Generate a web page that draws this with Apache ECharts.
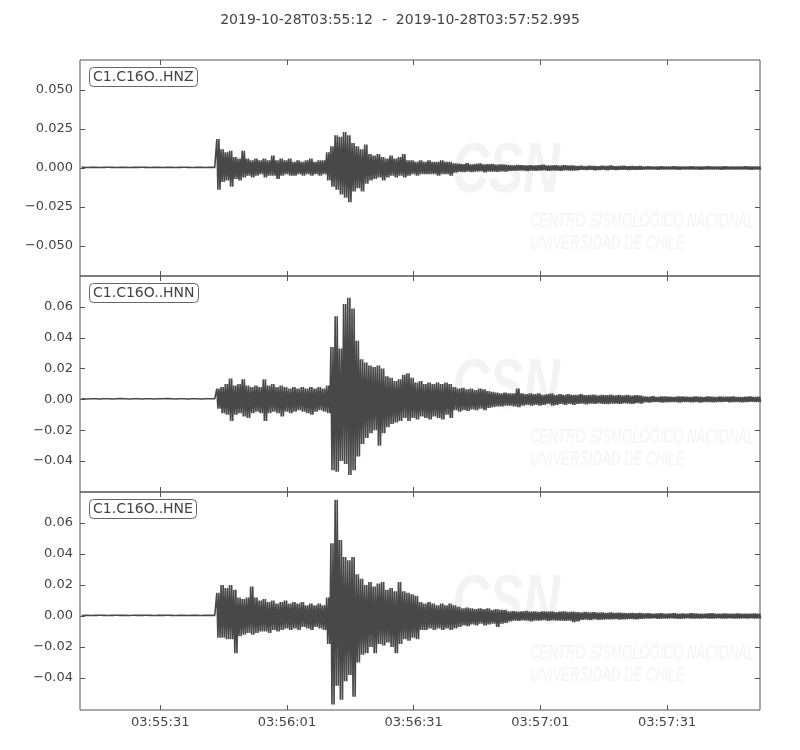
<!DOCTYPE html>
<html>
<head>
    <meta charset="UTF-8">
    <title>C1.C16O 2019-10-28</title>
    <script src="https://cdn.jsdelivr.net/npm/echarts@6/dist/echarts.min.js"></script>
    <style>
        html, body { margin: 0; padding: 0; background: #fff; }
    </style>
</head>
<body>
<div id="main" style="width: 800px;height:750px;"></div>

<script type="text/javascript">
    // seconds after 2019-10-28T03:55:12 where the time ticks sit
    var tickSecs = [19, 49, 79, 109, 139];
    var tickLabels = ['03:55:31', '03:56:01', '03:56:31', '03:57:01', '03:57:31'];
    var endSec = 160.995;

    var channels = ['C1.C16O..HNZ', 'C1.C16O..HNN', 'C1.C16O..HNE'];
    var yRanges = [[-0.0692, 0.0692], [-0.0601, 0.0801], [-0.0606, 0.0800]];
    var yTicks = [
        [-0.05, -0.025, 0, 0.025, 0.05],
        [-0.04, -0.02, 0, 0.02, 0.04, 0.06],
        [-0.04, -0.02, 0, 0.02, 0.04, 0.06]
    ];

    // per-second envelope (max / min) of each trace, in units of 1e-3, t = 0..160 s
    var zUp = [0.4,0.3,0.4,0.4,0.3,0.4,0.5,0.4,0.3,0.4,0.4,0.3,0.4,0.4,0.5,0.4,0.3,0.4,0.4,0.3,0.4,0.4,0.3,0.4,0.5,0.4,0.3,0.4,0.4,0.3,0.4,0.4,
        18.6,12,10,11,7,6,11,6,5,6,5,6,5,8,5,6,5,6,4,5,4,5,6,4,5,5,
        10,14,21,20,23,21,16,14,12,15,9,8,9,7,6,8,6,7,9,5,5,4,5,4,5,4,4,5,4,4,3,
        2.8,2.5,3.2,2.4,2.6,2.9,2.3,2.5,2.7,2.2,2.4,2.1,
        1.9,1.7,2.0,1.8,1.6,1.9,1.7,1.8,2.1,1.6,1.7,1.9,1.5,1.8,1.6,1.7,
        1.3,1.4,1.2,1.5,1.3,1.2,1.4,1.3,1.6,1.2,1.3,1.4,1.2,1.3,1.1,1.3,
        1.0,1.1,0.9,1.0,1.2,1.0,0.9,1.1,1.0,0.9,1.0,1.1,1.0,0.9,1.0,1.2,1.0,0.9,1.0,1.1,0.9,1.0,1.0,0.9,1.1,1.0,0.9,1.0];
    var zLo = [-0.4,-0.4,-0.3,-0.4,-0.4,-0.3,-0.4,-0.5,-0.4,-0.3,-0.4,-0.4,-0.3,-0.5,-0.4,-0.4,-0.3,-0.4,-0.4,-0.5,-0.4,-0.3,-0.4,-0.4,-0.4,-0.3,-0.4,-0.5,-0.4,-0.3,-0.4,-0.4,
        -13.9,-9,-8,-12,-7,-8,-6,-5,-6,-5,-4,-6,-5,-5,-7,-5,-4,-5,-5,-4,-5,-4,-5,-4,-5,-4,
        -8,-12,-14,-17,-19,-22,-15,-13,-15,-10,-8,-7,-6,-8,-6,-5,-6,-5,-6,-5,-4,-5,-4,-4,-4,-4,-5,-4,-4,-5,-3,
        -2.5,-2.7,-2.3,-2.6,-2.4,-2.2,-2.8,-2.3,-2.4,-2.5,-2.1,-2.3,
        -1.8,-1.9,-1.6,-1.7,-2.0,-1.6,-1.8,-1.7,-1.5,-1.9,-1.6,-1.7,-1.8,-1.5,-1.7,-1.6,
        -1.4,-1.2,-1.3,-1.2,-1.4,-1.3,-1.1,-1.4,-1.2,-1.3,-1.2,-1.1,-1.3,-1.2,-1.2,-1.1,
        -1.0,-0.9,-1.0,-1.1,-0.9,-1.0,-1.0,-0.9,-1.1,-1.0,-0.9,-1.0,-1.0,-1.1,-0.9,-1.0,-0.9,-1.0,-1.1,-1.0,-0.9,-1.0,-1.0,-0.9,-1.0,-1.1,-0.9,-1.0];

    var nUp = [0.4,0.3,0.4,0.4,0.3,0.4,0.4,0.3,0.4,0.5,0.4,0.3,0.4,0.4,0.3,0.4,0.4,0.3,0.4,0.4,0.5,0.4,0.3,0.4,0.4,0.3,0.4,0.4,0.3,0.4,0.4,0.4,
        7,8,10,13.5,9,10,13,9,8,9,8,13,9,10,8,9,8,7,8,7,8,7,8,7,8,7,9,
        34,54,33,62,66,59,38,26,24,22,21,22,20,15,14,12,13,16,17,14,11,12,10,11,10,11,10,11,10,8,
        7,7.5,6.5,7,6,7,6.5,5.5,5,4.5,4,4.5,
        4,4,7,4,3.5,4,3.5,4,3,3.5,4,3,3.5,3,3.5,3,
        3,3.5,2.8,3,3.2,2.7,3,2.8,3.1,2.6,2.9,2.7,3,2.5,2.8,2.6,
        2,1.8,2.1,1.7,1.9,2,1.8,1.7,2,1.9,1.8,1.6,2,1.8,1.7,1.9,1.8,1.6,1.9,1.7,1.8,2,1.7,1.6,1.8,1.9,1.7,1.8];
    var nLo = [-0.4,-0.4,-0.3,-0.4,-0.4,-0.3,-0.4,-0.4,-0.4,-0.3,-0.4,-0.5,-0.3,-0.4,-0.4,-0.4,-0.3,-0.4,-0.4,-0.4,-0.4,-0.3,-0.4,-0.4,-0.5,-0.3,-0.4,-0.4,-0.4,-0.3,-0.4,-0.4,
        -6,-9,-10,-14,-10,-9,-11,-12,-9,-8,-9,-14,-9,-8,-9,-11,-8,-9,-8,-7,-8,-9,-10,-8,-7,-8,-9,
        -46,-47,-40,-42,-49,-46,-37,-29,-25,-22,-20,-30,-22,-18,-16,-15,-14,-12,-14,-12,-13,-11,-12,-13,-11,-12,-13,-10,-12,-7,
        -8,-7,-7.5,-6.5,-7,-6,-7,-5.5,-5,-4.5,-4.5,-4,
        -4,-4.5,-5,-4,-3.5,-4,-3.5,-4,-3.5,-3,-4,-3.5,-3,-3.5,-3,-3.5,
        -3,-2.7,-3.2,-2.8,-3,-2.6,-2.9,-3.1,-2.7,-2.8,-3,-2.6,-2.7,-2.9,-2.5,-2.7,
        -1.9,-2,-1.7,-1.8,-2,-1.9,-1.7,-1.8,-2.1,-1.8,-1.7,-1.9,-1.8,-2,-1.7,-1.8,-1.9,-1.7,-1.8,-1.6,-1.9,-1.8,-1.7,-1.9,-1.8,-1.6,-1.8,-1.7];

    var eUp = [0.3,0.4,0.3,0.4,0.5,0.4,0.3,0.4,0.5,0.4,0.4,0.3,0.5,0.4,0.4,0.5,0.4,0.3,0.4,0.4,0.5,0.4,0.3,0.4,0.4,0.3,0.4,0.4,0.3,0.4,0.4,0.4,
        15,20,18,20,17,12,11,12,19,12,10,11,9,10,8,9,10,8,9,8,9,7,8,7,8,7,
        12,47,75,49,38,36,38,27,24,20,22,19,21,22,17,18,16,22,16,15,14,13,9,8,9,8,7,8,7,8,7,
        6,5,5.5,5,4.5,5,4.5,5,4,4.5,4,4,
        3,3.2,2.8,3,3.3,2.9,3,2.7,3.1,2.8,3,2.6,2.9,3,2.7,2.8,
        2.6,2.4,2.7,2.3,2.5,2.2,2.4,2.1,2.3,2,2.2,2,1.9,2.1,1.8,2,
        1.7,1.8,1.6,1.7,1.9,1.6,1.7,1.8,1.5,1.7,1.6,1.8,1.7,1.5,1.6,1.7,1.8,1.6,1.5,1.7,1.6,1.5,1.7,1.6,1.5,1.6,1.7,1.5];
    var eLo = [-0.4,-0.3,-0.4,-0.4,-0.3,-0.4,-0.5,-0.4,-0.4,-0.5,-0.3,-0.4,-0.4,-0.5,-0.4,-0.3,-0.4,-0.4,-0.3,-0.4,-0.4,-0.5,-0.4,-0.3,-0.4,-0.4,-0.3,-0.4,-0.4,-0.4,-0.3,-0.4,
        -14,-14,-15,-15,-24,-13,-12,-11,-12,-11,-10,-10,-11,-9,-10,-9,-8,-9,-8,-9,-7,-8,-9,-7,-8,-9,
        -18,-57,-45,-54,-42,-38,-52,-30,-25,-24,-20,-24,-18,-19,-17,-20,-24,-18,-15,-16,-14,-15,-9,-9,-8,-9,-8,-9,-8,-9,-8,
        -7,-6,-6.5,-5.5,-6,-5,-6,-5.5,-5,-7,-5,-4.5,
        -3.5,-3,-3.2,-2.8,-3,-3.4,-2.9,-3,-2.7,-3.1,-2.8,-3,-2.9,-3.2,-3,-4,
        -3.5,-2.5,-2.4,-2.6,-2.2,-2.4,-2.3,-2.1,-2.2,-2,-2.3,-2.1,-1.9,-2,-2.1,-1.8,
        -1.6,-1.7,-1.5,-1.8,-1.6,-1.7,-1.5,-1.6,-1.8,-1.7,-1.5,-1.6,-1.7,-1.6,-1.5,-1.7,-1.6,-1.5,-1.7,-1.6,-1.5,-1.6,-1.7,-1.5,-1.6,-1.5,-1.6,-1.5];

    var ups = [zUp, nUp, eUp];
    var los = [zLo, nLo, eLo];

    var panelTops = [60, 276, 492];
    var panelHeights = [216, 216, 218];
    var lineCol = '#484848';
    var textCol = '#444';
    var font = 'DejaVu Sans';

    function minus(s) { return s.replace('-', '\u2212'); }

    // dense zigzag swinging between the max and the min of every second
    function trace(up, lo) {
        var d = [];
        for (var i = 0; i < up.length; i++) {
            d.push([i + 0.4, up[i] / 1000]);
            d.push([i + 0.65, lo[i] / 1000]);
            d.push([i + 0.9, up[i] / 1000]);
            d.push([i + 1.15, lo[i] / 1000]);
        }
        return d;
    }

    var grids = [], xAxes = [], yAxes = [], series = [], titles = [], graphics = [];

    titles.push({
        text: '2019-10-28T03:55:12  -  2019-10-28T03:57:52.995',
        left: 'center', top: 13, padding: 0,
        textStyle: {fontFamily: font, fontSize: 14, fontWeight: 'normal', color: textCol}
    });

    for (var p = 0; p < 3; p++) {
        grids.push({
            left: 80, right: 40, top: panelTops[p], height: panelHeights[p],
            show: true, borderColor: '#555', borderWidth: 1, backgroundColor: 'transparent',
            containLabel: false, outerBoundsMode: 'none'
        });
        var tickCfg = {show: true, inside: true, length: 5, customValues: tickSecs, lineStyle: {color: '#555'}};
        var showLab = (p === 2);
        xAxes.push({
            type: 'value', gridIndex: p, position: 'bottom', min: 0, max: endSec,
            axisLine: {show: false, onZero: false}, splitLine: {show: false}, axisTick: tickCfg,
            axisLabel: {
                show: showLab, customValues: tickSecs, margin: 6,
                fontFamily: font, fontSize: 13, color: textCol,
                formatter: function (v) { return tickLabels[tickSecs.indexOf(Math.round(v))] || ''; }
            }
        });
        xAxes.push({
            type: 'value', gridIndex: p, position: 'top', min: 0, max: endSec,
            axisLine: {show: false, onZero: false}, splitLine: {show: false}, axisTick: tickCfg,
            axisLabel: {show: false}
        });
        var yt = {show: true, inside: true, length: 5, customValues: yTicks[p], lineStyle: {color: '#555'}};
        var digits = (p === 0) ? 3 : 2;
        yAxes.push({
            type: 'value', gridIndex: p, position: 'left', min: yRanges[p][0], max: yRanges[p][1],
            axisLine: {show: false, onZero: false}, splitLine: {show: false}, axisTick: yt,
            axisLabel: {
                customValues: yTicks[p], margin: 7,
                fontFamily: font, fontSize: 13, color: textCol,
                formatter: (function (dg) {
                    return function (v) { return minus(Number(v).toFixed(dg)); };
                })(digits)
            }
        });
        yAxes.push({
            type: 'value', gridIndex: p, position: 'right', min: yRanges[p][0], max: yRanges[p][1],
            axisLine: {show: false, onZero: false}, splitLine: {show: false}, axisTick: yt,
            axisLabel: {show: false}
        });

        series.push({
            name: channels[p], type: 'line',
            xAxisIndex: p * 2, yAxisIndex: p * 2,
            data: trace(ups[p], los[p]),
            symbol: 'none', showSymbol: false, sampling: null,
            clip: true,
            lineStyle: {color: lineCol, width: 1.6},
            z: 3
        });

        // channel label box
        titles.push({
            text: channels[p], left: 89, top: panelTops[p] + 7,
            padding: [3, 4, 3, 4], borderColor: '#666', borderWidth: 1, borderRadius: 4,
            backgroundColor: '#fff',
            textStyle: {fontFamily: font, fontSize: 14, fontWeight: 'normal', color: textCol}
        });

        // faint CSN watermark
        var off = panelTops[p] - 60;
        graphics.push({
            type: 'text', z: 0, silent: true, x: 452, y: 138 + off, scaleX: 0.73,
            style: {text: 'CSN', font: 'italic bold 70px "Liberation Sans"', fill: '#f3f3f3'}
        });
        graphics.push({
            type: 'text', z: 0, silent: true, x: 530, y: 211 + off, scaleX: 0.66,
            style: {text: 'CENTRO SISMOLÓGICO NACIONAL', font: 'italic 20px "Liberation Sans"', fill: '#f3f3f3'}
        });
        graphics.push({
            type: 'text', z: 0, silent: true, x: 530, y: 233 + off, scaleX: 0.66,
            style: {text: 'UNIVERSIDAD DE CHILE', font: 'italic 20px "Liberation Sans"', fill: '#f3f3f3'}
        });
    }

    var myChart = echarts.init(document.getElementById('main'));
    var option = {
        animation: false,
        backgroundColor: '#fff',
        title: titles,
        grid: grids,
        xAxis: xAxes,
        yAxis: yAxes,
        graphic: graphics,
        series: series
    };
    myChart.setOption(option);
</script>
</body>
</html>
